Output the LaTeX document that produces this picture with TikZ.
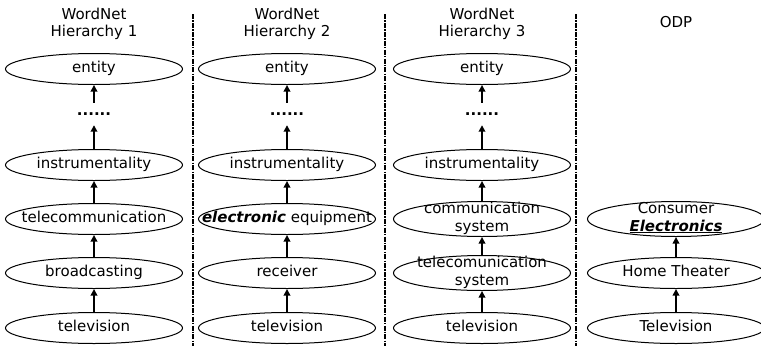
\documentclass[tikz,border=0pt]{standalone}
\usepackage{fontspec}
\setmainfont{DejaVu Sans}
\usetikzlibrary{shapes.geometric,arrows.meta}
\newcommand\wb[1]{\makebox[0pt][c]{#1}}
\newcommand\twol[2]{\makebox[0pt][c]{\begin{tabular}{@{}c@{}}#1\\#2\end{tabular}}}
\begin{document}
\begin{tikzpicture}[x=1pt,y=-1pt,
  every node/.style={font=\fontsize{15}{17.4}\selectfont},
  ov/.style={draw, ellipse, line width=1pt, minimum width=177pt, minimum height=31pt, inner sep=0pt, text height=0.7em, text depth=0pt},
  ovt/.style={ov, minimum height=35pt},
  dotsn/.style={inner sep=0pt, minimum height=22pt, font=\fontsize{15}{17.4}\selectfont\bfseries},
  arr/.style={line width=1.8pt, -{Triangle[width=6.5pt,length=6.5pt]}},
  div/.style={line width=1.5pt, dash pattern=on 5pt off 1.2pt on 1.5pt off 1.2pt},
  ttl/.style={align=center, inner sep=0pt}]
\useasboundingbox (0,0) rectangle (761,346);
% dividers
\coordinate (v1t) at (193,14); \coordinate (v1b) at (193,346);
\coordinate (v2t) at (385,14); \coordinate (v2b) at (385,346);
\coordinate (v3t) at (576,14); \coordinate (v3b) at (576,346);
\draw[div] (v1t) -- (v1b);
\draw[div] (v2t) -- (v2b);
\draw[div] (v3t) -- (v3b);
% column 1
\node[ttl] (t1) at (94,24) {WordNet\\Hierarchy 1};
\node[ov] (a1) at (94,69) {\wb{entity}};
\node[dotsn] (a2) at (94,114) {......};
\node[ov] (a3) at (94,165) {\wb{instrumentality}};
\node[ov] (a4) at (94,219) {\wb{telecommunication}};
\node[ov] (a5) at (94,273) {\wb{broadcasting}};
\node[ov] (a6) at (94,328) {\wb{television}};
\draw[arr] (a2) -- (a1);
\draw[arr] (a3) -- (a2);
\draw[arr] (a4) -- (a3);
\draw[arr] (a5) -- (a4);
\draw[arr] (a6) -- (a5);
% column 2
\node[ttl] (t2) at (287,24) {WordNet\\Hierarchy 2};
\node[ov] (b1) at (287,69) {\wb{entity}};
\node[dotsn] (b2) at (287,114) {......};
\node[ov] (b3) at (287,165) {\wb{instrumentality}};
\node[ov] (b4) at (287,219) {\wb{\textbf{\textit{electronic}} equipment}};
\node[ov] (b5) at (287,273) {\wb{receiver}};
\node[ov] (b6) at (287,328) {\wb{television}};
\draw[arr] (b2) -- (b1);
\draw[arr] (b3) -- (b2);
\draw[arr] (b4) -- (b3);
\draw[arr] (b5) -- (b4);
\draw[arr] (b6) -- (b5);
% column 3
\node[ttl] (t3) at (482,24) {WordNet\\Hierarchy 3};
\node[ov] (c1) at (482,69) {\wb{entity}};
\node[dotsn] (c2) at (482,114) {......};
\node[ov] (c3) at (482,165) {\wb{instrumentality}};
\node[ovt] (c4) at (482,219) {\twol{communication}{system}};
\node[ovt] (c5) at (482,273) {\twol{telecomunication}{system}};
\node[ov] (c6) at (482,328) {\wb{television}};
\draw[arr] (c2) -- (c1);
\draw[arr] (c3) -- (c2);
\draw[arr] (c4) -- (c3);
\draw[arr] (c5) -- (c4);
\draw[arr] (c6) -- (c5);
% column 4
\node[ttl] (t4) at (676,22) {ODP};
\node[ovt] (d4) at (676,219) {\twol{Consumer}{\underline{\textbf{\textit{Electronics}}}}};
\node[ov] (d5) at (676,273) {\wb{Home Theater}};
\node[ov] (d6) at (676,328) {\wb{Television}};
\draw[arr] (d5) -- (d4);
\draw[arr] (d6) -- (d5);
\end{tikzpicture}
\end{document}
